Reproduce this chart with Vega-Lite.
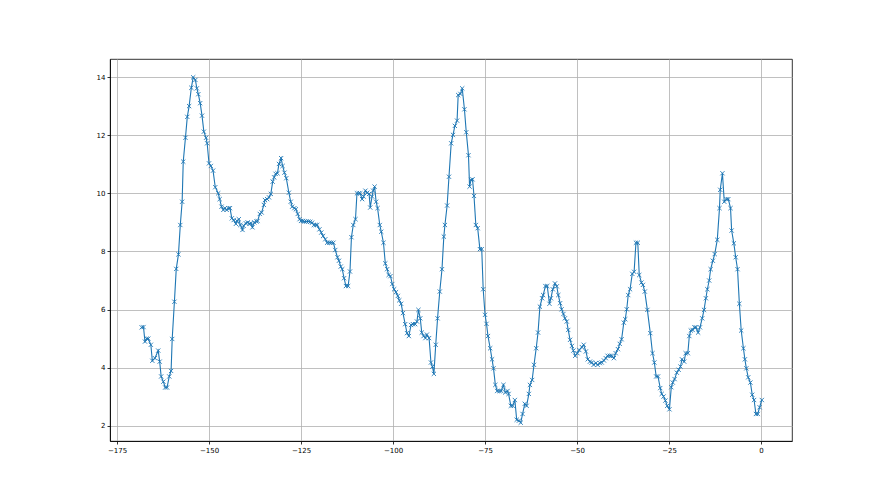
{
  "$schema": "https://vega.github.io/schema/vega-lite/v6.json",
  "width": 682,
  "height": 382,
  "autosize": {"type": "none"},
  "padding": {"left": 110, "top": 59, "right": 88, "bottom": 54},
  "background": "white",
  "view": {"stroke": "black", "strokeWidth": 0.8},
  "config": {
    "axis": {
      "domainColor": "black", "domainWidth": 0.8,
      "tickColor": "black", "tickWidth": 0.8, "tickSize": 3,
      "labelFont": "DejaVu Sans", "labelFontSize": 7, "labelColor": "black", "labelPadding": 2,
      "gridColor": "#b0b0b0", "gridWidth": 0.8, "title": null
    }
  },
  "data": {"values": [
    {"x": -168.3, "y": 5.39}, {"x": -167.8, "y": 5.40}, {"x": -167.4, "y": 4.90}, {"x": -166.9, "y": 5.00},
    {"x": -166.5, "y": 5.00}, {"x": -165.8, "y": 4.79}, {"x": -165.4, "y": 4.24}, {"x": -164.7, "y": 4.33},
    {"x": -163.8, "y": 4.59}, {"x": -163.4, "y": 4.21}, {"x": -163.0, "y": 3.70}, {"x": -162.4, "y": 3.52},
    {"x": -161.9, "y": 3.32}, {"x": -161.4, "y": 3.32}, {"x": -160.8, "y": 3.70}, {"x": -160.3, "y": 3.89},
    {"x": -160.0, "y": 4.99}, {"x": -159.4, "y": 6.27}, {"x": -158.9, "y": 7.40}, {"x": -158.3, "y": 7.90},
    {"x": -157.8, "y": 8.91}, {"x": -157.3, "y": 9.71}, {"x": -157.0, "y": 11.09}, {"x": -156.4, "y": 11.91},
    {"x": -155.9, "y": 12.63}, {"x": -155.4, "y": 13.00}, {"x": -154.8, "y": 13.63}, {"x": -154.3, "y": 13.99},
    {"x": -153.7, "y": 13.90}, {"x": -153.3, "y": 13.61}, {"x": -152.9, "y": 13.41}, {"x": -152.4, "y": 13.10},
    {"x": -151.9, "y": 12.67}, {"x": -151.4, "y": 12.12}, {"x": -150.8, "y": 11.91}, {"x": -150.5, "y": 11.72},
    {"x": -150.0, "y": 11.03}, {"x": -149.5, "y": 10.94}, {"x": -148.9, "y": 10.78}, {"x": -148.3, "y": 10.21},
    {"x": -147.5, "y": 10.00}, {"x": -147.1, "y": 9.80}, {"x": -146.6, "y": 9.54}, {"x": -146.1, "y": 9.43},
    {"x": -145.7, "y": 9.49}, {"x": -145.2, "y": 9.43}, {"x": -144.7, "y": 9.49}, {"x": -144.3, "y": 9.49},
    {"x": -143.8, "y": 9.14}, {"x": -143.3, "y": 9.08}, {"x": -142.7, "y": 8.95}, {"x": -142.4, "y": 9.05},
    {"x": -141.9, "y": 9.11}, {"x": -141.5, "y": 8.91}, {"x": -140.9, "y": 8.74}, {"x": -140.6, "y": 8.88},
    {"x": -140.0, "y": 8.97}, {"x": -139.5, "y": 9.00}, {"x": -139.0, "y": 8.95}, {"x": -138.6, "y": 8.97},
    {"x": -138.2, "y": 8.83}, {"x": -137.7, "y": 9.00}, {"x": -137.1, "y": 9.03}, {"x": -136.8, "y": 9.05},
    {"x": -136.2, "y": 9.29}, {"x": -135.7, "y": 9.34}, {"x": -135.1, "y": 9.60}, {"x": -134.8, "y": 9.77},
    {"x": -134.2, "y": 9.80}, {"x": -133.7, "y": 9.86}, {"x": -133.2, "y": 9.98}, {"x": -132.7, "y": 10.40},
    {"x": -132.3, "y": 10.55}, {"x": -131.9, "y": 10.67}, {"x": -131.4, "y": 10.69}, {"x": -131.0, "y": 11.01},
    {"x": -130.4, "y": 11.21}, {"x": -130.0, "y": 10.94}, {"x": -129.5, "y": 10.71}, {"x": -129.0, "y": 10.52},
    {"x": -128.3, "y": 10.02}, {"x": -127.8, "y": 9.71}, {"x": -127.4, "y": 9.54}, {"x": -126.8, "y": 9.49},
    {"x": -126.4, "y": 9.45}, {"x": -125.9, "y": 9.29}, {"x": -125.4, "y": 9.11}, {"x": -125.0, "y": 9.05},
    {"x": -124.5, "y": 9.05}, {"x": -124.0, "y": 9.03}, {"x": -123.5, "y": 9.03}, {"x": -123.0, "y": 9.03},
    {"x": -122.5, "y": 9.02}, {"x": -122.0, "y": 8.99}, {"x": -121.5, "y": 8.91}, {"x": -121.0, "y": 8.91},
    {"x": -120.6, "y": 8.91}, {"x": -120.0, "y": 8.76}, {"x": -119.5, "y": 8.65}, {"x": -119.0, "y": 8.53},
    {"x": -118.4, "y": 8.42}, {"x": -117.9, "y": 8.30}, {"x": -117.3, "y": 8.30}, {"x": -116.8, "y": 8.30},
    {"x": -116.2, "y": 8.30}, {"x": -115.7, "y": 8.05}, {"x": -115.1, "y": 7.80}, {"x": -114.7, "y": 7.68},
    {"x": -114.2, "y": 7.48}, {"x": -113.8, "y": 7.39}, {"x": -113.3, "y": 7.08}, {"x": -112.8, "y": 6.81},
    {"x": -112.2, "y": 6.81}, {"x": -111.7, "y": 7.31}, {"x": -111.3, "y": 8.49}, {"x": -110.8, "y": 8.91},
    {"x": -110.2, "y": 9.11}, {"x": -109.8, "y": 10.00}, {"x": -109.3, "y": 10.00}, {"x": -108.9, "y": 10.00},
    {"x": -108.4, "y": 9.80}, {"x": -108.0, "y": 9.89}, {"x": -107.5, "y": 10.09}, {"x": -107.0, "y": 10.02},
    {"x": -106.5, "y": 9.98}, {"x": -106.2, "y": 9.51}, {"x": -105.7, "y": 9.89}, {"x": -105.4, "y": 10.09},
    {"x": -105.0, "y": 10.23}, {"x": -104.6, "y": 9.71}, {"x": -104.2, "y": 9.49}, {"x": -103.6, "y": 8.91},
    {"x": -103.2, "y": 8.68}, {"x": -102.6, "y": 8.30}, {"x": -102.1, "y": 7.59}, {"x": -101.6, "y": 7.39},
    {"x": -101.2, "y": 7.19}, {"x": -100.7, "y": 7.15}, {"x": -100.2, "y": 6.88}, {"x": -99.7, "y": 6.70},
    {"x": -99.2, "y": 6.60}, {"x": -98.7, "y": 6.47}, {"x": -98.3, "y": 6.32}, {"x": -97.8, "y": 6.20},
    {"x": -97.3, "y": 5.88}, {"x": -96.7, "y": 5.50}, {"x": -96.2, "y": 5.19}, {"x": -95.7, "y": 5.09},
    {"x": -95.1, "y": 5.47}, {"x": -94.6, "y": 5.50}, {"x": -94.0, "y": 5.50}, {"x": -93.5, "y": 5.59},
    {"x": -93.1, "y": 5.99}, {"x": -92.6, "y": 5.70}, {"x": -92.2, "y": 5.21}, {"x": -91.7, "y": 5.09},
    {"x": -91.2, "y": 5.02}, {"x": -90.8, "y": 5.14}, {"x": -90.2, "y": 5.02}, {"x": -89.7, "y": 4.18},
    {"x": -89.3, "y": 4.04}, {"x": -88.9, "y": 3.79}, {"x": -88.4, "y": 4.79}, {"x": -87.9, "y": 5.70},
    {"x": -87.3, "y": 6.62}, {"x": -86.7, "y": 7.39}, {"x": -86.2, "y": 8.51}, {"x": -85.9, "y": 8.91},
    {"x": -85.3, "y": 9.58}, {"x": -84.8, "y": 10.57}, {"x": -84.2, "y": 11.72}, {"x": -83.7, "y": 12.01},
    {"x": -83.2, "y": 12.32}, {"x": -82.6, "y": 12.50}, {"x": -82.3, "y": 13.38}, {"x": -81.7, "y": 13.42},
    {"x": -81.2, "y": 13.61}, {"x": -80.6, "y": 12.89}, {"x": -80.1, "y": 12.10}, {"x": -79.5, "y": 11.31},
    {"x": -79.2, "y": 10.23}, {"x": -78.8, "y": 10.46}, {"x": -78.4, "y": 10.48}, {"x": -78.0, "y": 9.91},
    {"x": -77.5, "y": 8.91}, {"x": -77.0, "y": 8.80}, {"x": -76.4, "y": 8.08}, {"x": -75.9, "y": 8.08},
    {"x": -75.5, "y": 6.70}, {"x": -75.0, "y": 5.82}, {"x": -74.6, "y": 5.51}, {"x": -74.2, "y": 5.09},
    {"x": -73.6, "y": 4.67}, {"x": -73.1, "y": 4.29}, {"x": -72.7, "y": 3.98}, {"x": -72.2, "y": 3.41},
    {"x": -71.7, "y": 3.20}, {"x": -71.1, "y": 3.20}, {"x": -70.6, "y": 3.20}, {"x": -70.0, "y": 3.41},
    {"x": -69.5, "y": 3.15}, {"x": -68.9, "y": 3.20}, {"x": -68.6, "y": 3.10}, {"x": -68.0, "y": 2.69},
    {"x": -67.5, "y": 2.69}, {"x": -66.9, "y": 2.89}, {"x": -66.4, "y": 2.21}, {"x": -65.8, "y": 2.18},
    {"x": -65.3, "y": 2.11}, {"x": -64.8, "y": 2.41}, {"x": -64.2, "y": 2.76}, {"x": -63.7, "y": 2.69},
    {"x": -63.1, "y": 3.10}, {"x": -62.8, "y": 3.41}, {"x": -62.2, "y": 3.58}, {"x": -61.7, "y": 4.10},
    {"x": -61.1, "y": 4.67}, {"x": -60.6, "y": 5.21}, {"x": -60.1, "y": 6.10}, {"x": -59.5, "y": 6.39},
    {"x": -59.2, "y": 6.50}, {"x": -58.6, "y": 6.81}, {"x": -58.1, "y": 6.81}, {"x": -57.5, "y": 6.20},
    {"x": -57.1, "y": 6.39}, {"x": -56.6, "y": 6.70}, {"x": -56.0, "y": 6.90}, {"x": -55.5, "y": 6.80},
    {"x": -55.1, "y": 6.50}, {"x": -54.6, "y": 6.22}, {"x": -54.2, "y": 6.01}, {"x": -53.7, "y": 5.85},
    {"x": -53.3, "y": 5.70}, {"x": -52.8, "y": 5.59}, {"x": -52.4, "y": 5.30}, {"x": -51.9, "y": 4.96},
    {"x": -51.4, "y": 4.75}, {"x": -51.0, "y": 4.59}, {"x": -50.5, "y": 4.41}, {"x": -49.9, "y": 4.50},
    {"x": -49.4, "y": 4.61}, {"x": -48.7, "y": 4.71}, {"x": -48.2, "y": 4.79}, {"x": -47.6, "y": 4.56},
    {"x": -47.1, "y": 4.29}, {"x": -46.5, "y": 4.21}, {"x": -46.0, "y": 4.18}, {"x": -45.5, "y": 4.10},
    {"x": -44.9, "y": 4.16}, {"x": -44.4, "y": 4.10}, {"x": -43.8, "y": 4.16}, {"x": -43.3, "y": 4.18},
    {"x": -42.7, "y": 4.25}, {"x": -42.2, "y": 4.33}, {"x": -41.7, "y": 4.41}, {"x": -41.1, "y": 4.41},
    {"x": -40.6, "y": 4.41}, {"x": -40.0, "y": 4.33}, {"x": -39.5, "y": 4.50}, {"x": -38.9, "y": 4.64},
    {"x": -38.4, "y": 4.82}, {"x": -37.9, "y": 4.98}, {"x": -37.3, "y": 5.55}, {"x": -36.9, "y": 5.67},
    {"x": -36.5, "y": 6.01}, {"x": -36.1, "y": 6.50}, {"x": -35.6, "y": 6.70}, {"x": -35.0, "y": 7.23},
    {"x": -34.5, "y": 7.30}, {"x": -34.0, "y": 8.30}, {"x": -33.5, "y": 8.30}, {"x": -33.1, "y": 7.19},
    {"x": -32.5, "y": 6.93}, {"x": -32.1, "y": 6.85}, {"x": -31.6, "y": 6.62}, {"x": -30.9, "y": 5.99},
    {"x": -30.1, "y": 5.19}, {"x": -29.5, "y": 4.50}, {"x": -29.0, "y": 4.18}, {"x": -28.5, "y": 3.70},
    {"x": -28.0, "y": 3.70}, {"x": -27.4, "y": 3.30}, {"x": -27.0, "y": 3.10}, {"x": -26.5, "y": 3.01},
    {"x": -26.0, "y": 2.87}, {"x": -25.5, "y": 2.69}, {"x": -24.9, "y": 2.57}, {"x": -24.4, "y": 3.33},
    {"x": -24.0, "y": 3.49}, {"x": -23.5, "y": 3.61}, {"x": -22.9, "y": 3.83}, {"x": -22.4, "y": 3.93},
    {"x": -21.9, "y": 4.04}, {"x": -21.5, "y": 4.29}, {"x": -20.9, "y": 4.21}, {"x": -20.5, "y": 4.50},
    {"x": -19.9, "y": 4.50}, {"x": -19.5, "y": 5.09}, {"x": -19.1, "y": 5.28}, {"x": -18.6, "y": 5.30},
    {"x": -18.1, "y": 5.39}, {"x": -17.7, "y": 5.39}, {"x": -17.1, "y": 5.21}, {"x": -16.6, "y": 5.39},
    {"x": -16.0, "y": 5.70}, {"x": -15.5, "y": 5.99}, {"x": -15.0, "y": 6.39}, {"x": -14.6, "y": 6.70},
    {"x": -14.1, "y": 7.00}, {"x": -13.7, "y": 7.39}, {"x": -13.1, "y": 7.68}, {"x": -12.6, "y": 7.91},
    {"x": -11.9, "y": 8.40}, {"x": -11.3, "y": 9.49}, {"x": -11.1, "y": 10.12}, {"x": -10.5, "y": 10.69},
    {"x": -10.0, "y": 9.71}, {"x": -9.4, "y": 9.80}, {"x": -8.9, "y": 9.80}, {"x": -8.3, "y": 9.49},
    {"x": -8.0, "y": 8.72}, {"x": -7.4, "y": 8.28}, {"x": -6.9, "y": 7.80}, {"x": -6.4, "y": 7.39},
    {"x": -5.9, "y": 6.20}, {"x": -5.4, "y": 5.28}, {"x": -4.8, "y": 4.67}, {"x": -4.4, "y": 4.29},
    {"x": -4.0, "y": 3.98}, {"x": -3.5, "y": 3.67}, {"x": -2.9, "y": 3.49}, {"x": -2.4, "y": 3.07},
    {"x": -1.9, "y": 2.89}, {"x": -1.4, "y": 2.41}, {"x": -0.9, "y": 2.41}, {"x": -0.4, "y": 2.64},
    {"x": 0.2, "y": 2.89}
  ]},
  "encoding": {
    "x": {"field": "x", "type": "quantitative",
          "scale": {"domain": [-176.9, 8.4], "nice": false, "zero": false},
          "axis": {"values": [-175, -150, -125, -100, -75, -50, -25, 0], "grid": true}},
    "y": {"field": "y", "type": "quantitative",
          "scale": {"domain": [1.48, 14.62], "nice": false, "zero": false},
          "axis": {"values": [2, 4, 6, 8, 10, 12, 14], "grid": true}}
  },
  "layer": [
    {"mark": {"type": "line", "color": "#1f77b4", "strokeWidth": 1.1, "clip": true}},
    {"mark": {"type": "point", "shape": "M-1,-1L1,1M-1,1L1,-1", "filled": false, "color": "#1f77b4", "strokeWidth": 0.9, "size": 18, "opacity": 1}}
  ]
}
